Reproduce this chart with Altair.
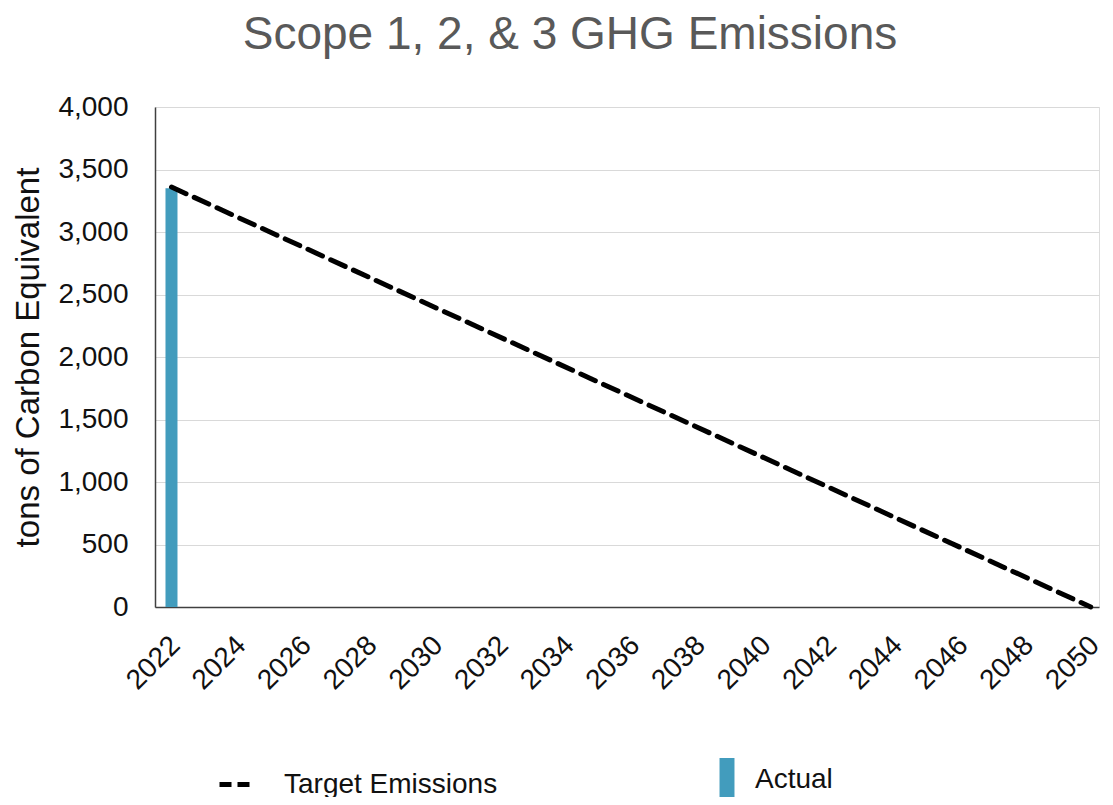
import altair as alt
import pandas as pd

# Data
target_years = [2022, 2050]
target_values = [3360, 0]
actual_years = [2022]
actual_values = [3350]
x_ticks = [2022, 2024, 2026, 2028, 2030, 2032, 2034, 2036, 2038, 2040, 2042, 2044, 2046, 2048, 2050]
y_ticks = [0, 500, 1000, 1500, 2000, 2500, 3000, 3500, 4000]

target_df = pd.DataFrame({"year": target_years, "value": target_values, "series": ["Target Emissions"] * len(target_years)})
actual_df = pd.DataFrame({"year": actual_years, "value": actual_values, "series": ["Actual"] * len(actual_years)})

FONT = "Liberation Sans"

x_enc = alt.X("year:Q",
              scale=alt.Scale(domain=[2021.65, 2050.1], nice=False, zero=False),
              axis=alt.Axis(values=x_ticks, labelAngle=-45, format="d", title=None,
                            grid=False, ticks=False, labelFontSize=28, labelColor="#111111",
                            labelFont=FONT, domainColor="#404040", domainWidth=1.5,
                            labelPadding=24, labelAlign="right", labelBaseline="top",
                            labelOffset=-6, labelOverlap=False))
y_scale = alt.Scale(domain=[0, 4000], nice=False)

bars = alt.Chart(actual_df).mark_bar(size=12).encode(
    x=x_enc,
    y=alt.Y("value:Q", scale=y_scale,
            axis=alt.Axis(values=y_ticks, format=",d", title="tons of Carbon Equivalent",
                          titleFontSize=33, titleFontWeight="normal", titleColor="#111111",
                          titleFont=FONT, titlePadding=12, labelFontSize=28,
                          labelColor="#111111", labelFont=FONT,
                          ticks=False, gridColor="#d9d9d9", gridWidth=1.2,
                          domainColor="#404040", domainWidth=1.5, labelPadding=27)),
    fill=alt.Fill("series:N",
                  scale=alt.Scale(domain=["Actual"], range=["#429cbd"]),
                  legend=alt.Legend(title=None, orient="none", legendX=550, legendY=651,
                                    symbolType="M-0.34,-1L0.34,-1L0.34,1L-0.34,1Z",
                                    symbolSize=1936, labelFontSize=28, labelColor="#111111",
                                    labelFont=FONT, symbolStrokeWidth=0, labelOffset=6,
                                    labelLimit=400)),
)

line = alt.Chart(target_df).mark_line(strokeDash=[16, 9], strokeWidth=5, strokeCap="round").encode(
    x="year:Q",
    y=alt.Y("value:Q", scale=y_scale),
    stroke=alt.Stroke("series:N",
                      scale=alt.Scale(domain=["Target Emissions"], range=["#000000"]),
                      legend=alt.Legend(title=None, orient="none", legendX=62, legendY=660,
                                        symbolType="stroke", symbolDash=[12, 6],
                                        symbolStrokeWidth=5, symbolSize=900,
                                        labelFontSize=28, labelColor="#111111",
                                        labelFont=FONT, labelOffset=32, labelLimit=400)),
)

chart = alt.layer(bars, line).resolve_scale(fill="independent", stroke="independent").properties(
    width=944,
    height=500,
    autosize=alt.AutoSizeParams(type="none"),
    padding={"left": 147, "top": 99, "right": 6, "bottom": 190},
    title=alt.TitleParams("Scope 1, 2, & 3 GHG Emissions", fontSize=46, font=FONT,
                          fontWeight="normal", color="#595959", anchor="middle",
                          dx=-57, offset=34),
).configure_view(stroke=None).configure(font=FONT)

chart.save("out.html", embed_options={"renderer": "svg", "actions": False})
